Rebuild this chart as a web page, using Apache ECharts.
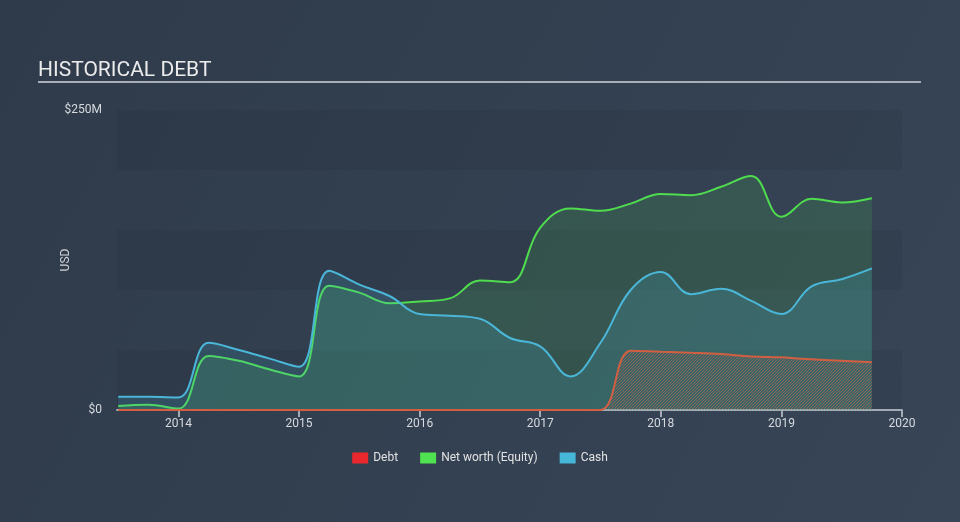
<!DOCTYPE html>
<html>
<head>
<meta charset="utf-8">
<script src="https://cdn.jsdelivr.net/npm/echarts@6/dist/echarts.min.js"></script>
<style>
html,body{margin:0;padding:0;}
#c{width:960px;height:522px;}
</style>
</head>
<body>
<div id="c"></div>
<script>
// Quarter-end dates (decimal years)
const periods = [2013.5, 2013.75, 2014.0, 2014.25, 2014.5, 2014.75, 2015.0, 2015.25, 2015.5, 2015.75,
  2016.0, 2016.25, 2016.5, 2016.75, 2017.0, 2017.25, 2017.5, 2017.75, 2018.0, 2018.25,
  2018.5, 2018.75, 2019.0, 2019.25, 2019.5, 2019.75];
// Values in USD millions
const debt = [0, 0, 0, 0, 0, 0, 0, 0, 0, 0,
  0, 0, 0, 0, 0, 0, 0, 49.4, 48.6, 47.8,
  46.7, 44.6, 43.9, 42.2, 41, 39.7];
const equity = [3.3, 4.4, 1.2, 45, 41, 34, 28, 103.6, 97.8, 89,
  90.5, 93, 108, 106.5, 152, 168, 166, 172, 180, 179,
  186, 195, 161, 176, 173, 176.5];
const cash = [11, 11, 10.5, 56, 50, 43, 36, 116, 104.5, 95,
  80, 78.6, 76, 60, 53, 28, 56, 100, 115, 96.5,
  101, 91, 80, 103, 109, 118];
const yearTicks = [2014, 2015, 2016, 2017, 2018, 2019, 2020];

function pairs(vals){ return periods.map((p,i)=>[p, vals[i]]); }

// hatch pattern for debt area
const pc = document.createElement('canvas');
pc.width = 3; pc.height = 3;
const g = pc.getContext('2d');
g.strokeStyle = 'rgba(200,100,80,0.85)';
g.lineWidth = 1;
g.beginPath();
g.moveTo(0,3); g.lineTo(3,0);
g.moveTo(-1,1); g.lineTo(1,-1);
g.moveTo(2,4); g.lineTo(4,2);
g.stroke();

const chart = echarts.init(document.getElementById('c'));
const font = 'Roboto, "Open Sans", sans-serif';
chart.setOption({
  animation: false,
  backgroundColor: {type:'linear', x:0, y:0, x2:1, y2:1, colorStops:[{offset:0,color:'#2f3b4a'},{offset:1,color:'#374557'}]},
  textStyle: {fontFamily: font},
  title: {
    text: 'HISTORICAL DEBT', left: 33, top: 55,
    textStyle: {color:'#ebebeb', fontSize: 21, fontWeight:'normal', fontFamily: font}
  },
  graphic: [{
    type:'line', shape:{x1:38, y1:82, x2:921, y2:82},
    style:{stroke:'#a7aeb6', lineWidth:2}
  }],
  legend: {
    bottom: 53, left: 'center',
    icon: 'rect', itemWidth: 16, itemHeight: 11, itemGap: 22,
    textStyle: {color:'#e2e2e2', fontSize: 12, fontFamily: font},
    data: ['Debt','Net worth (Equity)','Cash']
  },
  grid: {left: 117, right: 58, top: 110, bottom: 112},
  xAxis: {
    type: 'value', min: 2013.49, max: 2020,
    splitLine: {show:false},
    axisLine: {show:true, lineStyle:{color:'#a3acb6', width:2}},
    axisTick: {show:true, customValues: yearTicks, length: 7, lineStyle:{color:'#a3acb6', width:2}},
    axisLabel: {customValues: yearTicks, color:'#d6dadf', fontSize: 12, margin: 8,
      formatter: v => String(Math.round(v))}
  },
  yAxis: {
    type: 'value', min: 0, max: 250, interval: 50,
    name: 'USD', nameLocation: 'middle', nameGap: 45, nameRotate: 90, nameMoveOverlap: false,
    nameTextStyle: {color:'#d0d4d8', fontSize: 12},
    axisLine: {show:false}, axisTick: {show:false},
    splitLine: {show:false},
    splitArea: {show:true, areaStyle:{color:['rgba(0,0,0,0.05)','rgba(255,255,255,0.0)']}},
    axisLabel: {color:'#d6dadf', fontSize: 12, margin: 15,
      formatter: v => v === 0 ? '$0' : (v === 250 ? '$250M' : '')}
  },
  series: [
    {
      name: 'Net worth (Equity)', type: 'line', data: pairs(equity), smooth: 0.4,
      showSymbol: false, z: 2,
      itemStyle: {color:'#4fe14f'},
      lineStyle: {color:'#4fdc4f', width: 2},
      areaStyle: {color:'rgba(77,223,77,0.2)'}
    },
    {
      name: 'Cash', type: 'line', data: pairs(cash), smooth: 0.4,
      showSymbol: false, z: 3,
      itemStyle: {color:'#47b7d9'},
      lineStyle: {color:'#4ab6d8', width: 2},
      areaStyle: {color:'rgba(71,182,216,0.25)'}
    },
    {
      name: 'Debt', type: 'line', data: pairs(debt), smooth: 0.4,
      showSymbol: false, z: 4,
      itemStyle: {color:'#e8282c'},
      lineStyle: {color:'#d35f42', width: 2},
      areaStyle: {color: {image: pc, repeat: 'repeat'}}
    }
  ]
});
</script>
</body>
</html>
